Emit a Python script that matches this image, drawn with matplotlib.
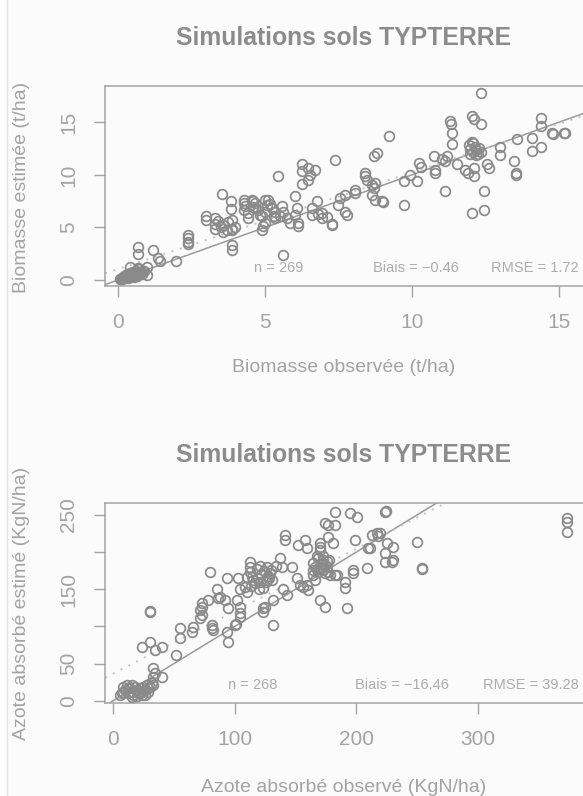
"""Deux nuages observé/estimé (biomasse et azote absorbé), style R base graphics en gris."""
import matplotlib

matplotlib.use("Agg")
import matplotlib.pyplot as plt
from matplotlib.lines import Line2D
from matplotlib.patches import Rectangle

plt.rcParams["font.family"] = ["Liberation Sans", "DejaVu Sans"]

TITLE = "Simulations sols TYPTERRE"

# --- Biomasse (t/ha) ---
obs_bio = [
    0.08, 0.1, 0.12, 0.15, 0.18, 0.2, 0.22, 0.25, 0.28, 0.3, 0.32, 0.35, 0.38, 0.4, 0.42, 0.45,
    0.48, 0.5, 0.52, 0.55, 0.58, 0.6, 0.62, 0.65, 0.68, 0.7, 0.72, 0.75, 0.78, 0.8, 0.85, 0.9,
    0.2, 0.3, 0.4, 0.5, 0.6, 0.7, 0.35, 0.45, 0.55, 0.65,
    0.68, 0.68, 1.19, 0.4, 0.68, 0.97, 0.97, 1.37, 1.42, 1.99,
    2.39, 2.39, 2.39, 2.39,
    3.0, 3.0, 3.3, 3.3, 3.3, 3.53, 3.58, 3.58, 3.4, 3.5, 3.7, 3.75,
    3.85, 3.85, 3.87, 3.87, 3.87, 3.87, 3.87, 4.0,
    4.3, 4.3, 4.32, 4.44, 4.44, 4.6, 4.66, 4.66, 4.28, 4.55, 4.6, 4.78, 4.83,
    4.9, 4.9, 4.95, 5.0, 5.0, 5.1, 5.18, 5.23, 5.0, 5.06, 5.35, 5.63,
    5.3, 5.35, 5.46, 5.57, 5.5, 5.63, 5.75, 5.86,
    6.03, 6.09, 6.03, 6.14, 6.14, 6.26, 6.28, 6.26,
    6.48, 6.54, 6.48, 6.71, 6.6, 6.6, 6.77, 6.94, 6.94, 6.8, 7.1,
    7.28, 7.3, 7.4, 7.5, 7.57, 7.74, 7.74, 7.8,
    8.08, 8.08, 8.42, 8.42, 8.48, 8.7, 8.82,
    8.65, 8.7, 8.76, 8.65, 8.76, 8.99, 9.02,
    9.22, 9.73, 9.73, 9.95, 10.18, 10.24, 10.3,
    10.75, 10.8, 10.8, 11.03, 11.15, 11.2, 11.15,
    11.32, 11.35, 11.38, 11.38, 11.55, 11.83, 11.9,
    11.95, 12.0, 12.05, 12.1, 12.15, 12.2, 12.25, 12.3, 12.0, 12.1, 12.2, 12.35,
    12.06, 12.12, 12.35, 12.35, 12.12, 12.12, 12.06, 12.46, 12.46, 12.57, 12.63,
    13.0, 13.0, 13.48, 13.54, 13.54, 13.6,
    14.1, 14.1, 14.4, 14.4, 14.4, 14.79, 14.82, 15.19, 15.22,
]
est_bio = [
    0.05, 0.1, 0.15, 0.1, 0.2, 0.15, 0.25, 0.3, 0.2, 0.35, 0.3, 0.4, 0.3, 0.45, 0.35, 0.5,
    0.4, 0.45, 0.55, 0.5, 0.6, 0.55, 0.5, 0.7, 0.6, 0.65, 0.75, 0.7, 0.8, 0.6, 0.9, 0.85,
    0.4, 0.55, 0.65, 0.8, 0.9, 1.0, 0.15, 0.25, 0.3, 0.35,
    3.1, 2.45, 2.9, 1.27, 1.1, 1.27, 0.5, 2.07, 1.8, 1.8,
    4.3, 4.0, 3.66, 3.4,
    6.05, 5.73, 5.9, 5.3, 4.9, 8.2, 5.25, 4.6, 5.6, 5.0, 4.8, 5.5,
    7.5, 6.8, 5.7, 4.9, 4.8, 3.3, 2.9, 5.0,
    7.3, 6.7, 7.0, 6.4, 5.9, 7.5, 7.3, 6.85, 7.6, 7.6, 6.95, 6.7, 6.2,
    6.05, 4.8, 5.1, 5.4, 6.5, 7.6, 7.2, 6.85, 7.6, 7.15, 5.9, 6.5,
    6.05, 6.5, 9.87, 7.0, 6.05, 2.4, 5.9, 5.4,
    7.96, 6.85, 6.2, 5.4, 5.1, 11.05, 10.4, 9.1,
    10.7, 10.0, 9.55, 10.5, 6.85, 6.2, 7.5, 6.37, 5.9, 6.3, 6.0,
    5.25, 5.3, 11.46, 7.17, 7.8, 8.1, 6.5, 6.2,
    8.6, 8.3, 10.2, 9.87, 9.55, 11.8, 12.1,
    9.08, 8.76, 9.24, 8.1, 7.64, 7.48, 7.45,
    13.7, 9.4, 7.17, 10.0, 9.4, 11.1, 10.8,
    11.8, 10.5, 10.2, 11.5, 11.3, 11.8, 8.5,
    15.1, 14.8, 14.0, 12.9, 11.0, 10.5, 10.2,
    12.8, 12.5, 13.1, 12.2, 12.7, 12.4, 12.0, 12.6, 12.0, 13.0, 11.9, 12.2,
    15.6, 15.3, 14.8, 17.8, 10.7, 9.87, 6.37, 6.7, 8.5, 11.0, 10.67,
    12.7, 11.94, 11.3, 10.2, 10.0, 13.4,
    13.55, 12.3, 15.45, 14.65, 12.7, 14.0, 13.9, 14.0, 13.95,
]
bio_fit = [1.04, 0.92]  # intercept, pente (droite de régression, pointillés)
bio_stats = ["n = 269", "Biais = \u22120.46", "RMSE = 1.72"]

# --- Azote absorbé (KgN/ha) ---
obs_n = [
    6.9, 8.2, 9.6, 11.0, 12.4, 13.7, 16.5, 16.5, 17.8, 19.2, 20.6, 22.0, 23.3, 24.7, 26.1, 27.4,
    28.8, 30.2, 31.6, 32.9, 15.1, 19.2, 23.3, 8.2, 5.5, 12.4, 15.1, 22.0, 26.1, 28.8,
    33.0, 34.3, 33.0, 39.8, 23.3, 30.2, 34.3, 39.8, 30.2, 30.5, 52.0, 54.9, 54.9, 64.5, 65.9,
    71.4, 72.7, 72.7, 72.7, 71.4, 78.2, 79.6, 81.0, 82.3, 81.5,
    85.1, 86.5, 87.8, 92.0, 93.3, 94.7, 93.3, 94.7, 100.2, 101.0,
    101.6, 102.9, 104.3, 104.3, 104.3, 104.3, 108.4, 109.8, 109.8,
    112.5, 112.5, 112.5, 113, 115, 117, 119, 120, 121, 122, 123, 124, 126, 127, 128, 129, 130,
    131, 134, 118, 121, 114,
    123.5, 123.5, 124.9, 126.3, 126.3, 131.8, 131.8,
    137.3, 138.6, 141.4, 141.4, 140.0, 142.7, 146.9,
    151.0, 153.7, 156.5, 159.2, 160.6, 152.3, 157.8, 159.2,
    164.7, 166.0, 167.4, 168.8, 170.2, 171.5, 172.9, 174.3, 175.6, 177.0, 168.8, 170.2, 170.2,
    170.2, 172.9, 174.3, 178.4, 164.7, 164.7, 166.0, 168, 173, 176, 178,
    170.2, 174.3, 174.3, 177.0, 177.0, 182.5, 181.2, 182.5,
    182.5, 183.9, 190.8, 190.8, 192.2, 197.6, 197.6, 194.9, 200.4, 199.0,
    208.6, 210.0, 211.0, 212.7, 216.8, 219.6, 218.0, 223.7, 224.5, 223.7, 223.7, 225.1,
    230.6, 230.6, 229.2, 249.8, 253.9, 254.5, 373.3, 373.3, 373.3,
]
est_n = [
    9.9, 18.9, 14.4, 21.1, 10.8, 16.6, 12.1, 7.6, 18.9, 14.4, 9.9, 16.6, 12.1, 18.9, 14.4, 21.1,
    16.6, 18.9, 23.3, 21.1, 5.4, 6.3, 7.6, 12.1, 7.6, 16.6, 21.1, 9.9, 7.6, 12.1,
    43.5, 36.8, 32.0, 32.0, 72.7, 79.4, 68.2, 72.7, 119.8, 121.0, 61.5, 83.9, 97.4, 92.9, 99.6,
    122.0, 131.0, 126.6, 115.0, 111.0, 135.5, 173.7, 101.9, 95.0, 98.0,
    151.0, 137.8, 140.0, 135.5, 164.7, 124.3, 92.9, 79.4, 101.9, 103.0,
    135.5, 164.7, 151.0, 117.6, 113.0, 126.6, 153.5, 167.0, 146.8,
    187.0, 180.4, 173.7, 155, 162, 158, 165, 150, 160, 170, 152, 175, 160, 168, 165, 172, 176,
    162, 182, 178, 181, 166,
    124.3, 119.8, 126.6, 162.4, 180.4, 101.9, 135.5,
    191.6, 180.4, 223.0, 216.3, 151.0, 142.3, 180.4,
    164.7, 155.7, 153.5, 155.7, 149.0, 209.6, 216.3, 205.0,
    185.0, 180.4, 178.0, 173.7, 180.4, 185.0, 176.0, 182.5, 180.4, 173.7, 191.6, 202.8, 211.8,
    207.4, 189.4, 171.5, 169.2, 169.2, 176.0, 162.4, 195, 195, 188, 190,
    135.5, 126.6, 238.8, 236.6, 220.8, 236.6, 212.0, 254.5,
    169.2, 169.2, 160.2, 151.3, 124.3, 176.0, 171.5, 252.2, 247.8, 216.3,
    178.2, 205.0, 205.5, 223.0, 225.3, 225.3, 222.0, 254.5, 255.0, 198.4, 187.2, 211.8,
    207.4, 189.4, 187.2, 214.0, 178.2, 177.5, 245.5, 241.0, 227.6,
]
n_fit = [36.5, 0.84]
n_stats = ["n = 268", "Biais = \u221216.46", "RMSE = 39.28"]

W, H = 583, 796
GREY_PT = "#8a8a8a"
GREY_AX = "#a3a3a3"
GREY_TXT = "#a3a3a3"


def px(x, y):
    """pixels (origine en haut à gauche) -> fraction de figure"""
    return x / W, 1 - y / H


def scatter_panel(fig, box, obs, est, fit, xlim, ylim, xticks, yticks, ylabels, stats, stats_pos):
    left, top, right, bottom = box
    x0, y0 = px(left, bottom)
    x1, y1 = px(right, top)
    ax = fig.add_axes([x0, y0, x1 - x0, y1 - y0])
    ax.set_facecolor("none")
    ax.plot(obs, est, "o", ms=7, mfc="none", mec=GREY_PT, mew=1.25, clip_on=False, zorder=3)
    ax.axline((0, 0), slope=1, color="#9a9a9a", lw=1.1, zorder=2)
    ax.axline((0, fit[0]), slope=fit[1], color="#c4c4c4", lw=1.4, ls=(0, (1, 3.5)), zorder=2)
    ax.set_xlim(*xlim)
    ax.set_ylim(*ylim)
    ax.set_xticks(xticks)
    ax.set_xticklabels([str(t) for t in xticks])
    ax.set_yticks(yticks)
    ax.set_yticklabels(ylabels, rotation=90, va="center")
    ax.tick_params(direction="out", length=8, width=1, color=GREY_AX, labelcolor=GREY_TXT,
                   labelsize=15, pad=11.5)
    for side, spine in ax.spines.items():
        spine.set_color(GREY_AX)
        spine.set_linewidth(1.1)
    ax.spines["right"].set_visible(False)
    for text, (fx, ha) in zip(stats, stats_pos):
        ax.text(fx, 0.088, text, transform=ax.transAxes, ha=ha, va="center",
                fontsize=10.5, color="#adadad")
    return ax


fig = plt.figure(figsize=(W / 100, H / 100), dpi=100, facecolor="#fbfbfb")
fig.patches.append(Rectangle((0, 0), 7 / W, 1, transform=fig.transFigure, color="white", zorder=0))
fig.add_artist(Line2D([7 / W, 7 / W], [0, 1], color="#e4e4e4", lw=1))

# panneau du haut : biomasse
scatter_panel(
    fig, (105, 86, 590, 286), obs_bio, est_bio, bio_fit,
    xlim=(-0.443, 16.07), ylim=(-0.571, 18.46),
    xticks=[0, 5, 10, 15], yticks=[0, 5, 10, 15], ylabels=["0", "5", "10", "15"],
    stats=bio_stats, stats_pos=[(0.358, "center"), (0.641, "center"), (0.976, "right")],
)
fig.text(*px(344, 38), TITLE, ha="center", va="center", fontsize=17.8, fontweight="bold", color="#8c8c8c")
fig.text(*px(344, 368), "Biomasse observée (t/ha)", ha="center", va="center", fontsize=14, color=GREY_TXT)
fig.text(*px(22, 187), "Biomasse estimée (t/ha)", ha="center", va="center", rotation=90,
         fontsize=14, color=GREY_TXT)

# panneau du bas : azote absorbé
scatter_panel(
    fig, (105, 503, 590, 702.5), obs_n, est_n, n_fit,
    xlim=(-6.8, 392.5), ylim=(-2.4, 266.2),
    xticks=[0, 100, 200, 300], yticks=[0, 50, 100, 150, 200, 250],
    ylabels=["0", "50", "", "150", "", "250"],
    stats=n_stats, stats_pos=[(0.305, "center"), (0.613, "center"), (0.976, "right")],
)
fig.text(*px(344, 455), TITLE, ha="center", va="center", fontsize=17.8, fontweight="bold", color="#8c8c8c")
fig.text(*px(344, 787), "Azote absorbé observé (KgN/ha)", ha="center", va="center", fontsize=14,
         color=GREY_TXT)
fig.text(*px(22, 603), "Azote absorbé estimé (KgN/ha)", ha="center", va="center", rotation=90,
         fontsize=14, color=GREY_TXT)

fig.savefig("out.png", dpi=100, facecolor=fig.get_facecolor())
